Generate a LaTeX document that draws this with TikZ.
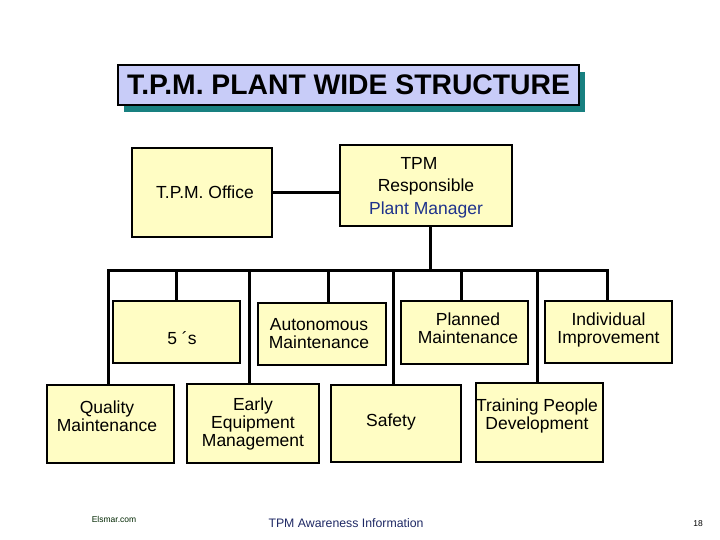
\documentclass[tikz,border=0pt]{standalone}
\usepackage{fontspec}
\setmainfont{Liberation Sans}
\usetikzlibrary{shadows}
\definecolor{boxfill}{RGB}{255,253,196}
\definecolor{titlefill}{RGB}{200,204,248}
\definecolor{shadowteal}{RGB}{24,128,128}
\definecolor{pmblue}{RGB}{30,50,140}
\definecolor{footblue}{RGB}{30,40,100}
\tikzset{
  box/.style={draw=black, line width=2pt, fill=boxfill, inner sep=0pt},
  boxtext/.style={align=center, inner sep=0pt, font=\fontsize{17.5}{18}\selectfont},
  conn/.style={draw=black, line width=3pt},
  titlebox/.style={draw=black, line width=2pt, fill=titlefill, inner sep=0pt,
    font=\fontsize{28.3}{30}\selectfont\bfseries,
    general shadow={fill=shadowteal, shadow xshift=6pt, shadow yshift=-7pt}}
}
\begin{document}
\begin{tikzpicture}[x=1pt, y=-1pt]
\useasboundingbox (0,0) rectangle (720,540);
% title
\node[titlebox, minimum width=461, minimum height=40] (title) at (348.5,85) {T.P.M. PLANT WIDE STRUCTURE};
% top boxes
\node[box, minimum width=140, minimum height=89,
  label={[boxtext, name=officet, xshift=3pt]center:T.P.M. Office}] (office) at (202,192.5) {};
\node[box, minimum width=172, minimum height=81,
  label={[boxtext, name=tpmt, yshift=-2pt, font=\fontsize{17.5}{22.5}\selectfont]center:TPM\hspace*{14pt}\\Responsible\hspace*{14pt}\\\textcolor{pmblue}{Plant Manager}}] (tpm) at (426,185.5) {};
% row 1
\node[box, minimum width=127, minimum height=62,
  label={[boxtext, name=fivest, xshift=5.5pt, yshift=-6pt]center:5 ´s}] (fives) at (176.5,332) {};
\node[box, minimum width=128, minimum height=62,
  label={[boxtext, name=amt, xshift=-3pt]center:Autonomous\\Maintenance}] (am) at (322,334) {};
\node[box, minimum width=127, minimum height=63,
  label={[boxtext, name=pmt, xshift=3.5pt, yshift=4.5pt]center:Planned\\Maintenance}] (pm) at (464.5,332.5) {};
\node[box, minimum width=127, minimum height=62,
  label={[boxtext, name=iit, yshift=2pt]center:Individual\\Improvement}] (ii) at (608.5,332) {};
% row 2
\node[box, minimum width=127, minimum height=78,
  label={[boxtext, name=qmt, xshift=-3.5pt, yshift=7.5pt]center:Quality\\Maintenance}] (qm) at (110.5,424) {};
\node[box, minimum width=132, minimum height=79,
  label={[boxtext, name=eemt]center:Early\\Equipment\\Management}] (eem) at (253,423.5) {};
\node[box, minimum width=130, minimum height=77,
  label={[boxtext, name=safetyt, xshift=-5pt, yshift=1.5pt]center:Safety}] (safety) at (396,423.5) {};
\node[box, minimum width=127, minimum height=79,
  label={[boxtext, name=tpdt, xshift=-2.5pt, yshift=6.5pt]center:Training People\\Development}] (tpd) at (539.5,422.5) {};
% bar junctions
\coordinate (j1) at (108,270);
\coordinate (j2) at (176,270);
\coordinate (j3) at (249,270);
\coordinate (j4) at (328,270);
\coordinate (j5) at (393,270);
\coordinate (j6) at (461,270);
\coordinate (j7) at (537,270);
\coordinate (j8) at (607,270);
\coordinate (jt) at (430,270);
% connectors
\draw[conn] (office.east) -- (office.east -| tpm.west);
\draw[conn] (jt |- tpm.south) -- (jt);
\draw[conn, line cap=rect] (j1) -- (j8);
\draw[conn] (j1) -- (j1 |- qm.north);
\draw[conn] (j2) -- (j2 |- fives.north);
\draw[conn] (j3) -- (j3 |- eem.north);
\draw[conn] (j4) -- (j4 |- am.north);
\draw[conn] (j5) -- (j5 |- safety.north);
\draw[conn] (j6) -- (j6 |- pm.north);
\draw[conn] (j7) -- (j7 |- tpd.north);
\draw[conn] (j8) -- (j8 |- ii.north);
% footer
\node[font=\fontsize{8.5}{10}\selectfont, text=black!85!green] (elsmar) at (114,519) {Elsmar.com};
\node[font=\fontsize{12.3}{14}\selectfont, text=footblue] (aware) at (346,523) {TPM Awareness Information};
\node[font=\fontsize{8.5}{10}\selectfont] (page) at (698,524) {18};
\end{tikzpicture}
\end{document}
